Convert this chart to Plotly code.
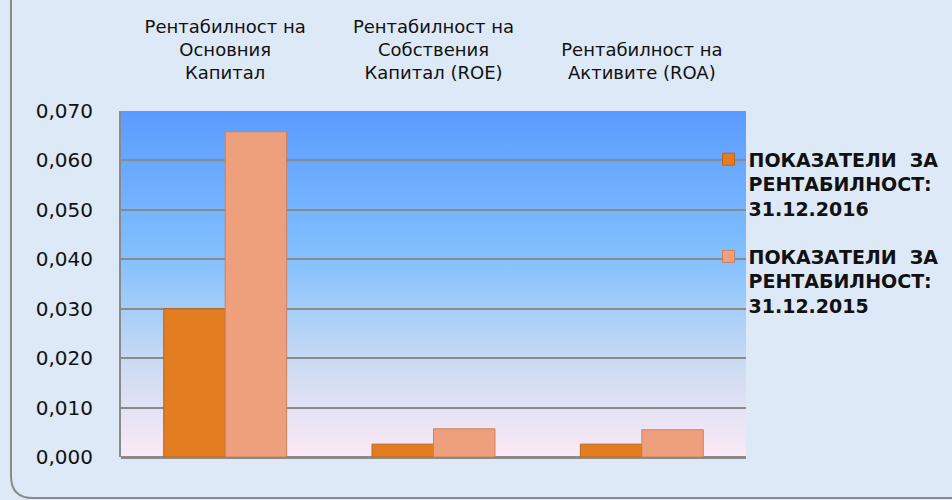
import plotly.graph_objects as go
import base64

categories = ["Рентабилност на<br>Основния<br>Капитал",
              "Рентабилност на<br>Собствения<br>Капитал (ROE)",
              "Рентабилност на<br>Активите (ROA)"]
series_2016_name = "ПОКАЗАТЕЛИ  ЗА<br>РЕНТАБИЛНОСТ:<br>31.12.2016"
series_2015_name = "ПОКАЗАТЕЛИ  ЗА<br>РЕНТАБИЛНОСТ:<br>31.12.2015"
values_2016 = [0.030, 0.0026, 0.0026]
values_2015 = [0.0658, 0.0057, 0.0055]
y_ticks = [0.0, 0.01, 0.02, 0.03, 0.04, 0.05, 0.06, 0.07]

W, H = 952, 500
ML, MR, MT, MB = 121, 206, 111, 43
PW, PH = W - ML - MR, H - MT - MB

svg = '''<svg xmlns="http://www.w3.org/2000/svg" width="100" height="100" preserveAspectRatio="none">
<defs><linearGradient id="g" x1="0" y1="0" x2="0" y2="1">
<stop offset="0" stop-color="#5b9bff"/>
<stop offset="0.42" stop-color="#82c0ff"/>
<stop offset="0.75" stop-color="#cfdcf2"/>
<stop offset="1" stop-color="#fce9f6"/>
</linearGradient></defs>
<rect x="0" y="0" width="100" height="100" fill="url(#g)"/></svg>'''
src = "data:image/svg+xml;base64," + base64.b64encode(svg.encode()).decode()

fig = go.Figure()
fig.add_trace(go.Bar(x=categories, y=values_2016, name=series_2016_name, legendgroup="a",
                     marker=dict(color="#e27d22", line=dict(color="#b8651c", width=1))))
fig.add_trace(go.Bar(x=categories, y=values_2015, name=series_2015_name, legendgroup="b",
                     marker=dict(color="#eda07b", line=dict(color="#c98061", width=1))))

# outer rounded border (left and bottom)
x0 = (11 - ML) / PW
yb = (MT + PH - 498) / PH
ytop = (MT + PH - (-10)) / PH
xr = (W + 20 - ML) / PW
rx, ry = 22 / PW, 22 / PH
fig.add_shape(type="path", xref="paper", yref="paper",
              path=f"M {x0},{ytop} L {x0},{yb+ry} Q {x0},{yb} {x0+rx},{yb} L {xr},{yb}",
              line=dict(color="#8a8a8a", width=2), layer="below")

fig.add_layout_image(dict(source=src, xref="paper", yref="paper", x=0, y=1,
                          sizex=1, sizey=1, sizing="stretch", layer="below",
                          xanchor="left", yanchor="top"))

fig.update_layout(
    width=W, height=H,
    margin=dict(l=ML, r=MR, t=MT, b=MB, autoexpand=False),
    paper_bgcolor="#dde9f6",
    plot_bgcolor="rgba(0,0,0,0)",
    barmode="group", bargap=0.41, bargroupgap=0,
    separators=",.",
    font=dict(family="DejaVu Sans", color="#111111"),
    showlegend=True,
    legend=dict(x=0.94, y=0.915, xanchor="left", yanchor="top", valign="top",
                font=dict(family="DejaVu Sans", size=19, color="#111111", weight="bold"),
                bgcolor="rgba(0,0,0,0)", tracegroupgap=20, itemwidth=30),
    xaxis=dict(side="top", showgrid=False, showline=False, ticks="",
               ticklabelstandoff=27,
               tickfont=dict(family="DejaVu Sans", size=18, color="#111111")),
    yaxis=dict(range=[0, 0.07], tickvals=y_ticks, tickformat=".3f",
               showgrid=True, gridcolor="#8a8a8a", gridwidth=2,
               showline=True, linecolor="#8a8a8a", linewidth=2, mirror=False,
               zeroline=True, zerolinecolor="#8a8a8a", zerolinewidth=3,
               ticks="", ticklabelstandoff=22,
               tickfont=dict(family="DejaVu Sans", size=20, color="#111111")),
)
fig.write_html("out.html", config={"displayModeBar": False},
               post_script="document.body.style.margin='0';")
